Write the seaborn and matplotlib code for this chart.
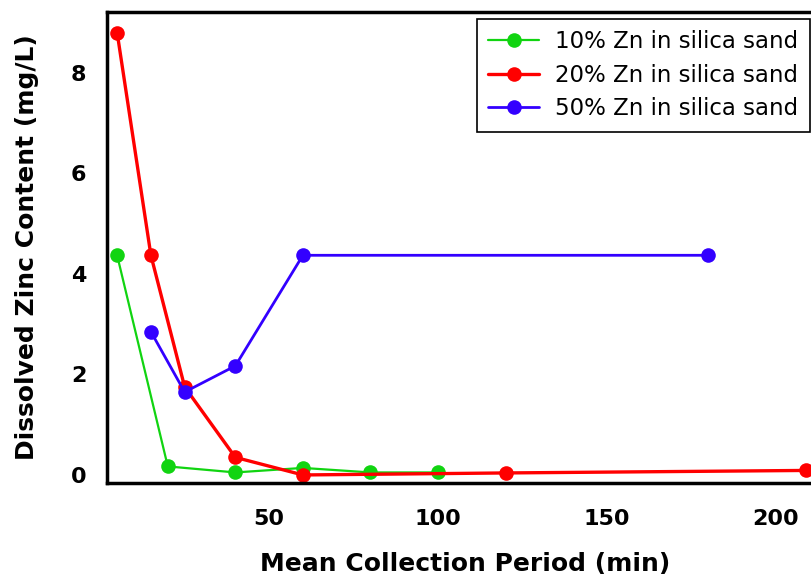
import matplotlib
matplotlib.use("Agg")
import matplotlib.pyplot as plt
import seaborn as sns
import pandas as pd

# Data
x_10 = [5, 20, 40, 60, 80, 100]
y_10 = [4.37, 0.17, 0.05, 0.14, 0.05, 0.05]
x_20 = [5, 15, 25, 40, 60, 120, 209]
y_20 = [8.80, 4.37, 1.75, 0.35, 0.0, 0.04, 0.09]
x_50 = [15, 25, 40, 60, 180]
y_50 = [2.85, 1.65, 2.17, 4.37, 4.37]
labels = ["10% Zn in silica sand", "20% Zn in silica sand", "50% Zn in silica sand"]
x_ticks = [50, 100, 150, 200]
y_ticks = [0, 2, 4, 6, 8]

sns.set_theme(style="white")
plt.rcParams['font.family'] = ['DejaVu Sans']
plt.rcParams['text.color'] = 'black'
plt.rcParams['axes.labelcolor'] = 'black'

W, H = 812, 580
fig = plt.figure(figsize=(W / 100, H / 100), dpi=100)
left, right, top, bottom = 107, 823, 12, 483
ax = fig.add_axes([left / W, 1 - bottom / H, (right - left) / W, (bottom - top) / H])

series = [
    (x_10, y_10, labels[0], "#11d411", 1.6),
    (x_20, y_20, labels[1], "#ff0000", 2.4),
    (x_50, y_50, labels[2], "#3300ff", 2.0),
]
for xs, ys, lab, col, lw in series:
    df = pd.DataFrame({"x": xs, "y": ys})
    sns.lineplot(data=df, x="x", y="y", ax=ax, color=col, lw=lw, marker="o",
                 markersize=10.5, markeredgewidth=0, label=lab, sort=False,
                 clip_on=False)

ax.set_xlim(2, 214)
ax.set_ylim(-0.16, 9.21)
ax.set_xticks(x_ticks)
ax.set_yticks(y_ticks)
ax.tick_params(axis="both", which="major", direction="out", length=10, width=2.2,
               labelsize=16, color="black", labelcolor="black")
ax.tick_params(axis="x", pad=9)
ax.tick_params(axis="y", pad=5)
for t in ax.get_xticklabels() + ax.get_yticklabels():
    t.set_fontweight("bold")
for s in ["left", "bottom", "top", "right"]:
    ax.spines[s].set_linewidth(2.5)
    ax.spines[s].set_color("black")

ax.set_xlabel("Mean Collection Period (min)", fontsize=18, fontweight="bold", labelpad=16)
ax.set_ylabel("Dissolved Zinc Content (mg/L)", fontsize=18, fontweight="bold", labelpad=23)

leg = ax.legend(loc="upper right", bbox_to_anchor=(810 / W, 1 - 19 / H),
                bbox_transform=fig.transFigure, borderaxespad=0, fontsize=16.5,
                frameon=True, fancybox=False, framealpha=1, edgecolor="black",
                handlelength=2.2, handletextpad=0.72, labelspacing=0.45,
                borderpad=0.5)
leg.get_frame().set_linewidth(1.2)
for t in leg.get_texts():
    t.set_color("black")

fig.savefig("out.png", dpi=100)
